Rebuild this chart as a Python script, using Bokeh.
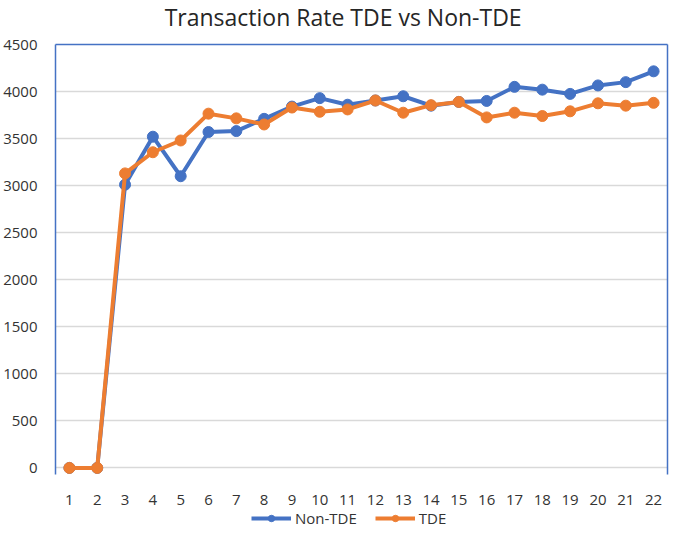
from bokeh.plotting import figure
from bokeh.layouts import column
from bokeh.models import (Range1d, FixedTicker, Legend, LegendItem,
                          ColumnDataSource, LinearAxis)
from bokeh.core.properties import value
from bokeh.embed import file_html
from bokeh.resources import INLINE

title_text = "Transaction Rate TDE vs Non-TDE"
runs = list(range(1, 23))
non_tde = [0, 0, 3010, 3520, 3100, 3570, 3580, 3710, 3840, 3930, 3860, 3905,
           3950, 3850, 3890, 3900, 4050, 4020, 3975, 4065, 4100, 4215]
tde = [0, 0, 3130, 3355, 3480, 3765, 3715, 3650, 3830, 3785, 3810, 3905,
       3775, 3855, 3890, 3725, 3775, 3740, 3790, 3875, 3850, 3880]
y_ticks = list(range(0, 4501, 500))
series_names = ["Non-TDE", "TDE"]

BLUE = "#4472C4"
ORANGE = "#ED7D31"
GRID = "#D9D9D9"
FONT = "Open Sans"
TXT = "#333333"
W = 669

def strip(h):
    f = figure(width=W, height=h, output_backend="svg", toolbar_location=None,
               x_range=Range1d(0, 1), y_range=Range1d(0, 1),
               x_axis_location=None, y_axis_location=None,
               min_border_left=0, min_border_right=0, min_border_top=0,
               min_border_bottom=0)
    f.grid.visible = False
    f.outline_line_color = None
    return f

# ---- title strip (its frame is aligned with the chart's frame by the column)
t = strip(33)
t.text(x=[0.47], y=[1.0], text=[title_text], text_align="center",
       text_baseline="top", text_font=value(FONT), text_font_size="23px",
       text_color="#262626")

# ---- main chart
p = figure(width=W, height=475, output_backend="svg", toolbar_location=None,
           x_range=Range1d(0.5, 22.5), y_range=Range1d(-70, 4500),
           min_border_left=46, min_border_right=2, min_border_top=11,
           min_border_bottom=34)
p.outline_line_color = None

p.xaxis.ticker = FixedTicker(ticks=runs)
p.yaxis.ticker = FixedTicker(ticks=y_ticks)
for ax in (p.xaxis[0], p.yaxis[0]):
    ax.major_label_text_font = FONT
    ax.major_label_text_font_size = "15px"
    ax.major_label_text_color = TXT
    ax.major_tick_line_color = None
    ax.minor_tick_line_color = None
p.xaxis.axis_line_color = None
p.yaxis.axis_line_color = BLUE
p.yaxis.axis_line_width = 1.5
p.xaxis.major_label_standoff = 14
p.yaxis.major_label_standoff = 12

# blue frame on the right and top
for loc in ("right", "above"):
    ax = LinearAxis(ticker=FixedTicker(ticks=[]), axis_line_color=BLUE,
                    axis_line_width=1.5, major_tick_line_color=None,
                    minor_tick_line_color=None, major_tick_out=0,
                    major_tick_in=0, major_label_standoff=0,
                    major_label_text_font_size="0px")
    p.add_layout(ax, loc)

p.xgrid.grid_line_color = None
p.ygrid.grid_line_color = GRID
p.ygrid.grid_line_width = 1.5

src = ColumnDataSource(dict(x=runs, a=non_tde, b=tde))
p.line("x", "a", source=src, line_color=BLUE, line_width=4)
p.scatter("x", "a", source=src, size=11, fill_color=BLUE, line_color=BLUE)
p.line("x", "b", source=src, line_color=ORANGE, line_width=4)
p.scatter("x", "b", source=src, size=11, fill_color=ORANGE, line_color=ORANGE)

# ---- legend strip (renderers use the real data, far outside this strip's ranges)
q = strip(20)
q.x_range = Range1d(-10, -9)
q.y_range = Range1d(-10, -9)
items = []
for name, col, key in zip(series_names, [BLUE, ORANGE], ["a", "b"]):
    r1 = q.line("x", key, source=src, line_color=col, line_width=4)
    r2 = q.scatter("x", key, source=src, size=11, fill_color=col, line_color=col)
    items.append(LegendItem(label=name, renderers=[r1, r2]))
legend = Legend(items=items, orientation="horizontal", location=(196, 0),
                label_text_font=FONT, label_text_font_size="15px",
                label_text_color=TXT, glyph_width=40, glyph_height=16,
                label_height=18, spacing=18, label_standoff=4,
                border_line_color=None, background_fill_alpha=0,
                padding=1, margin=0)
q.add_layout(legend, "center")

layout = column(t, p, q, spacing=0)
open("out.html", "w").write(file_html(layout, INLINE))
